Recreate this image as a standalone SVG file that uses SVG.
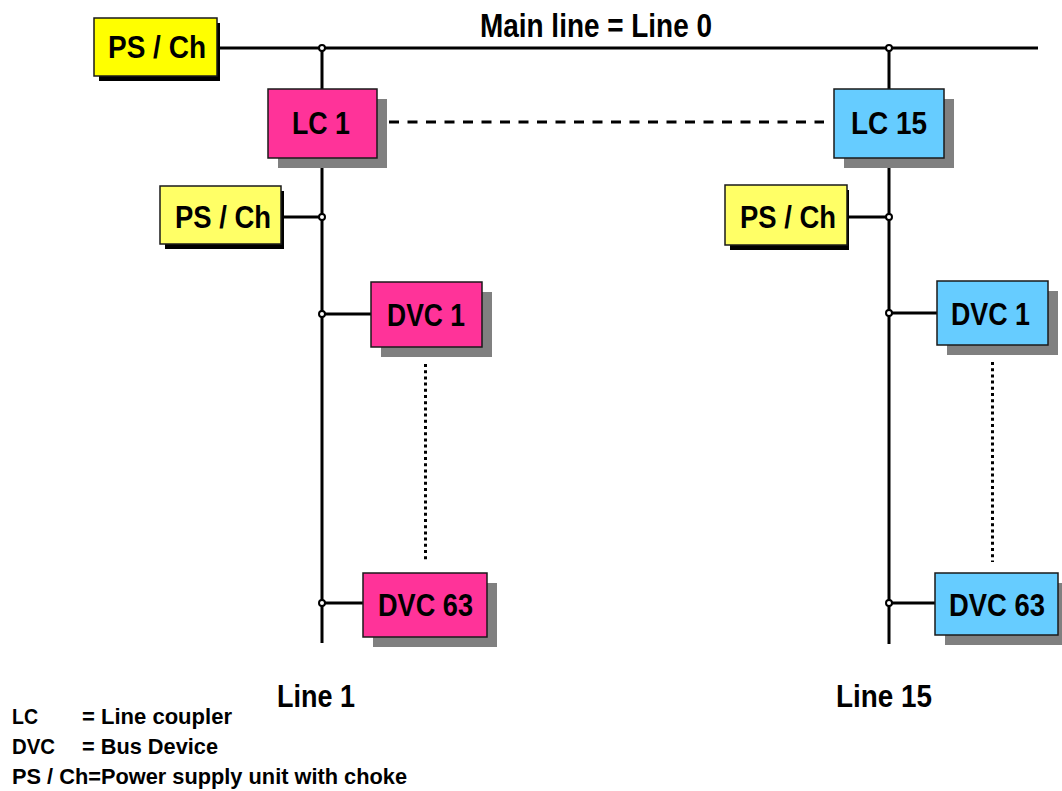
<svg xmlns="http://www.w3.org/2000/svg" width="1062" height="791" viewBox="0 0 1062 791">
  <style>
    text { font-family: "Liberation Sans", Arial, sans-serif; font-weight: bold; fill: #000; }
    .lbl { font-size: 32px; }
    .title { font-size: 33px; }
    .line-lbl { font-size: 31px; }
    .legend { font-size: 22px; }
    .box { stroke: #1a1a1a; stroke-width: 1.5; }
    .ps { fill: #ffff00; }
    .ps2 { fill: #ffff66; }
    .lc1 { fill: #ff3399; }
    .lc15 { fill: #66ccff; }
    .shadow-dark { fill: #000; }
    .shadow-grey { fill: #808080; }
    .bus { stroke: #000; stroke-width: 3; fill: none; }
    .dash { stroke: #000; stroke-width: 3; stroke-dasharray: 10 8.5; fill: none; }
    .dots { stroke: #000; stroke-width: 3; stroke-dasharray: 3 3.2; fill: none; }
    .junction { fill: #fff; stroke: #000; stroke-width: 2; }
  </style>

  <!-- bus wiring -->
  <g id="connectors">
    <line class="bus" x1="217" y1="48" x2="1038" y2="48"/>
    <line class="bus" x1="322" y1="48" x2="322" y2="643"/>
    <line class="bus" x1="889" y1="48" x2="889" y2="644"/>
    <line class="bus" x1="281" y1="217" x2="322" y2="217"/>
    <line class="bus" x1="322" y1="314" x2="371" y2="314"/>
    <line class="bus" x1="322" y1="603" x2="363" y2="603"/>
    <line class="bus" x1="847" y1="217" x2="889" y2="217"/>
    <line class="bus" x1="889" y1="313" x2="937" y2="313"/>
    <line class="bus" x1="889" y1="603" x2="935" y2="603"/>
    <line class="dash" x1="389" y1="122" x2="824" y2="122"/>
    <line class="dots" x1="425.5" y1="364" x2="425.5" y2="560"/>
    <line class="dots" x1="992.5" y1="362" x2="992.5" y2="562"/>
  </g>

  <!-- top power supply -->
  <g id="ps-main">
    <rect class="shadow-dark" x="99" y="23" width="121" height="58"/>
    <rect class="box ps" x="94" y="18" width="123" height="58"/>
    <text class="lbl" x="108" y="58" textLength="98" lengthAdjust="spacingAndGlyphs">PS / Ch</text>
  </g>

  <g id="lc1">
    <rect class="shadow-grey" x="278" y="99" width="109" height="69"/>
    <rect class="box lc1" x="268" y="89" width="109" height="69"/>
    <text class="lbl" x="292" y="134" textLength="58" lengthAdjust="spacingAndGlyphs">LC 1</text>
  </g>

  <g id="lc15">
    <rect class="shadow-grey" x="844" y="99" width="110" height="69"/>
    <rect class="box lc15" x="834" y="89" width="110" height="69"/>
    <text class="lbl" x="851" y="134" textLength="76" lengthAdjust="spacingAndGlyphs">LC 15</text>
  </g>

  <g id="ps-line1">
    <rect class="shadow-dark" x="165" y="191" width="119" height="58"/>
    <rect class="box ps2" x="160" y="186" width="121" height="58"/>
    <text class="lbl" x="175" y="228" textLength="96" lengthAdjust="spacingAndGlyphs">PS / Ch</text>
  </g>

  <g id="ps-line15">
    <rect class="shadow-dark" x="730" y="190" width="119" height="60"/>
    <rect class="box ps2" x="725" y="185" width="122" height="60"/>
    <text class="lbl" x="740" y="228" textLength="96" lengthAdjust="spacingAndGlyphs">PS / Ch</text>
  </g>

  <g id="dvc1-line1">
    <rect class="shadow-grey" x="381" y="292" width="111" height="65"/>
    <rect class="box lc1" x="371" y="282" width="111" height="65"/>
    <text class="lbl" x="387" y="326" textLength="78" lengthAdjust="spacingAndGlyphs">DVC 1</text>
  </g>

  <g id="dvc63-line1">
    <rect class="shadow-grey" x="373" y="583" width="124" height="64"/>
    <rect class="box lc1" x="363" y="573" width="124" height="64"/>
    <text class="lbl" x="378" y="616" textLength="95" lengthAdjust="spacingAndGlyphs">DVC 63</text>
  </g>

  <g id="dvc1-line15">
    <rect class="shadow-grey" x="947" y="291" width="111" height="64"/>
    <rect class="box lc15" x="937" y="281" width="111" height="64"/>
    <text class="lbl" x="951" y="325" textLength="79" lengthAdjust="spacingAndGlyphs">DVC 1</text>
  </g>

  <g id="dvc63-line15">
    <rect class="shadow-grey" x="945" y="583" width="123" height="62"/>
    <rect class="box lc15" x="935" y="573" width="123" height="62"/>
    <text class="lbl" x="949" y="616" textLength="96" lengthAdjust="spacingAndGlyphs">DVC 63</text>
  </g>

  <!-- tap points on the bus -->
  <g id="junctions">
    <circle class="junction" cx="322" cy="48" r="3"/>
    <circle class="junction" cx="889" cy="48" r="3"/>
    <circle class="junction" cx="322" cy="217" r="3"/>
    <circle class="junction" cx="322" cy="314" r="3"/>
    <circle class="junction" cx="322" cy="603" r="3"/>
    <circle class="junction" cx="889" cy="217" r="3"/>
    <circle class="junction" cx="889" cy="313" r="3"/>
    <circle class="junction" cx="889" cy="603" r="3"/>
  </g>

  <g id="labels">
    <text class="title" x="480" y="37" textLength="232" lengthAdjust="spacingAndGlyphs">Main line = Line 0</text>
    <text class="line-lbl" x="277" y="707" textLength="78" lengthAdjust="spacingAndGlyphs">Line 1</text>
    <text class="line-lbl" x="836" y="707" textLength="96" lengthAdjust="spacingAndGlyphs">Line 15</text>
  </g>

  <g id="legend">
    <text class="legend" x="12" y="724" textLength="26" lengthAdjust="spacingAndGlyphs">LC</text>
    <text class="legend" x="82" y="724" textLength="150" lengthAdjust="spacingAndGlyphs">= Line coupler</text>
    <text class="legend" x="12" y="754" textLength="43" lengthAdjust="spacingAndGlyphs">DVC</text>
    <text class="legend" x="82" y="754" textLength="136" lengthAdjust="spacingAndGlyphs">= Bus Device</text>
    <text class="legend" x="12" y="784" textLength="395" lengthAdjust="spacingAndGlyphs">PS / Ch=Power supply unit with choke</text>
  </g>
</svg>
